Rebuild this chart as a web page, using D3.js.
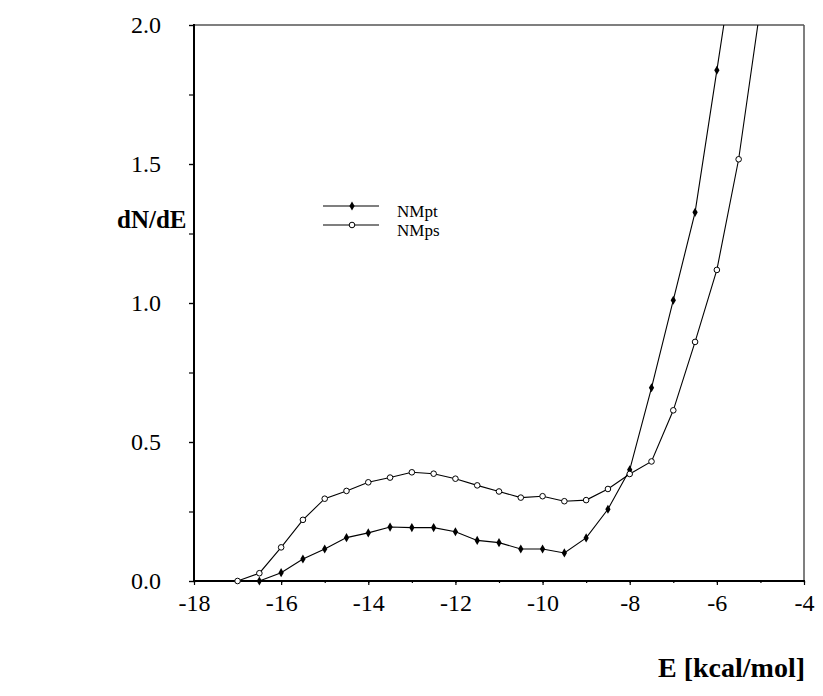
<!DOCTYPE html>
<html>
<head>
<meta charset="utf-8">
<script src="https://cdn.jsdelivr.net/npm/d3@7"></script>
<style>
  html, body { margin: 0; padding: 0; background: #fff; }
  svg { display: block; }
  text { font-family: "Liberation Serif", "Times New Roman", serif; fill: #000; }
</style>
</head>
<body>
<svg id="chart" width="823" height="696"></svg>
<script>
// ---- data ----
const energy = [-17, -16.5, -16, -15.5, -15, -14.5, -14, -13.5, -13, -12.5, -12, -11.5, -11,
                -10.5, -10, -9.5, -9, -8.5, -8, -7.5, -7, -6.5, -6, -5.5, -5];
const nmpt = [null, 0.0, 0.030, 0.079, 0.115, 0.156, 0.173, 0.194, 0.192, 0.192, 0.177, 0.146, 0.138,
              0.115, 0.115, 0.101, 0.155, 0.258, 0.400, 0.695, 1.010, 1.326, 1.837, 2.35, null];
const nmps = [0.0, 0.028, 0.121, 0.220, 0.296, 0.324, 0.355, 0.372, 0.391, 0.386, 0.368, 0.344, 0.322,
              0.300, 0.305, 0.287, 0.291, 0.331, 0.385, 0.430, 0.614, 0.860, 1.119, 1.517, 2.066];
const seriesNames = ["NMpt", "NMps"];
const xTickValues = [-18, -16, -14, -12, -10, -8, -6, -4];
const yTickValues = [0.0, 0.5, 1.0, 1.5, 2.0];
const xLabel = "E [kcal/mol]";
const yLabel = "dN/dE";

// ---- layout ----
const svg = d3.select("#chart");
const L = 194, R = 804, T = 25, B = 581;
const x = d3.scaleLinear().domain([-18, -4]).range([L, R]);
const y = d3.scaleLinear().domain([0, 2]).range([B, T]);

// frame (top/right)
svg.append("line").attr("x1", L).attr("x2", R).attr("y1", T).attr("y2", T)
  .attr("stroke", "#555").attr("stroke-width", 1.5);
svg.append("line").attr("x1", R).attr("x2", R).attr("y1", T).attr("y2", B)
  .attr("stroke", "#555").attr("stroke-width", 1.5);

// x axis
const xAxisG = svg.append("g").attr("transform", `translate(0,${B})`);
xAxisG.call(d3.axisBottom(x).tickValues(d3.range(-18, -3, 1)).tickSize(2).tickFormat(""))
  .call(g => g.select(".domain").remove());
xAxisG.append("g").call(d3.axisBottom(x).tickValues(xTickValues).tickSize(4).tickFormat(d3.format("d")))
  .call(g => g.select(".domain").remove())
  .call(g => g.selectAll("text").attr("font-size", 24).attr("dy", "0.95em")
        .style("font-family", "Liberation Serif").text(d => String(d).replace("\u2212", "-")));
xAxisG.selectAll("line").attr("stroke", "#000").attr("stroke-width", 1.2);
svg.append("line").attr("x1", L - 1).attr("x2", R + 1).attr("y1", B).attr("y2", B)
  .attr("stroke", "#000").attr("stroke-width", 2);

// y axis
const yAxisG = svg.append("g").attr("transform", `translate(${L},0)`);
yAxisG.call(d3.axisLeft(y).tickValues(d3.range(0, 2.01, 0.25)).tickSize(5).tickFormat(""))
  .call(g => g.select(".domain").remove());
yAxisG.append("g").call(d3.axisLeft(y).tickValues(yTickValues).tickSize(5).tickPadding(28).tickFormat(d3.format(".1f")))
  .call(g => g.select(".domain").remove())
  .call(g => g.selectAll("text").attr("font-size", 24).style("font-family", "Liberation Serif"));
yAxisG.selectAll("line").attr("stroke", "#000").attr("stroke-width", 1.2);
svg.append("line").attr("x1", L).attr("x2", L).attr("y1", T - 1).attr("y2", B + 1)
  .attr("stroke", "#000").attr("stroke-width", 2);

// axis titles
svg.append("text").attr("x", 117).attr("y", 228).attr("font-size", 25).attr("font-weight", "bold")
  .text(yLabel);
svg.append("text").attr("x", 805).attr("y", 677).attr("text-anchor", "end")
  .attr("font-size", 28).attr("font-weight", "bold").text(xLabel);

// clip
svg.append("defs").append("clipPath").attr("id", "plotclip")
  .append("rect").attr("x", L - 10).attr("y", T).attr("width", R - L + 20).attr("height", B - T + 10);

const plot = svg.append("g").attr("clip-path", "url(#plotclip)");
const data = [nmpt, nmps].map((vals, i) =>
  energy.map((e, j) => ({ e, v: vals[j] })).filter(d => d.v !== null));

const line = d3.line().x(d => x(d.e)).y(d => y(d.v));
data.forEach(ser => {
  plot.append("path").datum(ser).attr("d", line)
    .attr("fill", "none").attr("stroke", "#000").attr("stroke-width", 1.1);
});

const diamond = d3.symbol().type(d3.symbolDiamond).size(24);
plot.selectAll(".pt").data(data[0]).enter().append("path")
  .attr("transform", d => `translate(${x(d.e)},${y(d.v)})`)
  .attr("d", diamond).attr("fill", "#000");
plot.selectAll(".ps").data(data[1]).enter().append("circle")
  .attr("cx", d => x(d.e)).attr("cy", d => y(d.v)).attr("r", 2.8)
  .attr("fill", "#fff").attr("stroke", "#000").attr("stroke-width", 1);

// legend
const legY = [206, 225];
seriesNames.forEach((name, i) => {
  const g = svg.append("g");
  g.append("line").attr("x1", 323).attr("x2", 379).attr("y1", legY[i]).attr("y2", legY[i])
    .attr("stroke", "#000").attr("stroke-width", 1.1);
  if (i === 0) {
    g.append("path").attr("transform", `translate(352,${legY[i]})`).attr("d", diamond).attr("fill", "#000");
  } else {
    g.append("circle").attr("cx", 352).attr("cy", legY[i]).attr("r", 2.8)
      .attr("fill", "#fff").attr("stroke", "#000");
  }
  g.append("text").attr("x", 397).attr("y", legY[i] + 11).attr("font-size", 17).text(name);
});
</script>
</body>
</html>
